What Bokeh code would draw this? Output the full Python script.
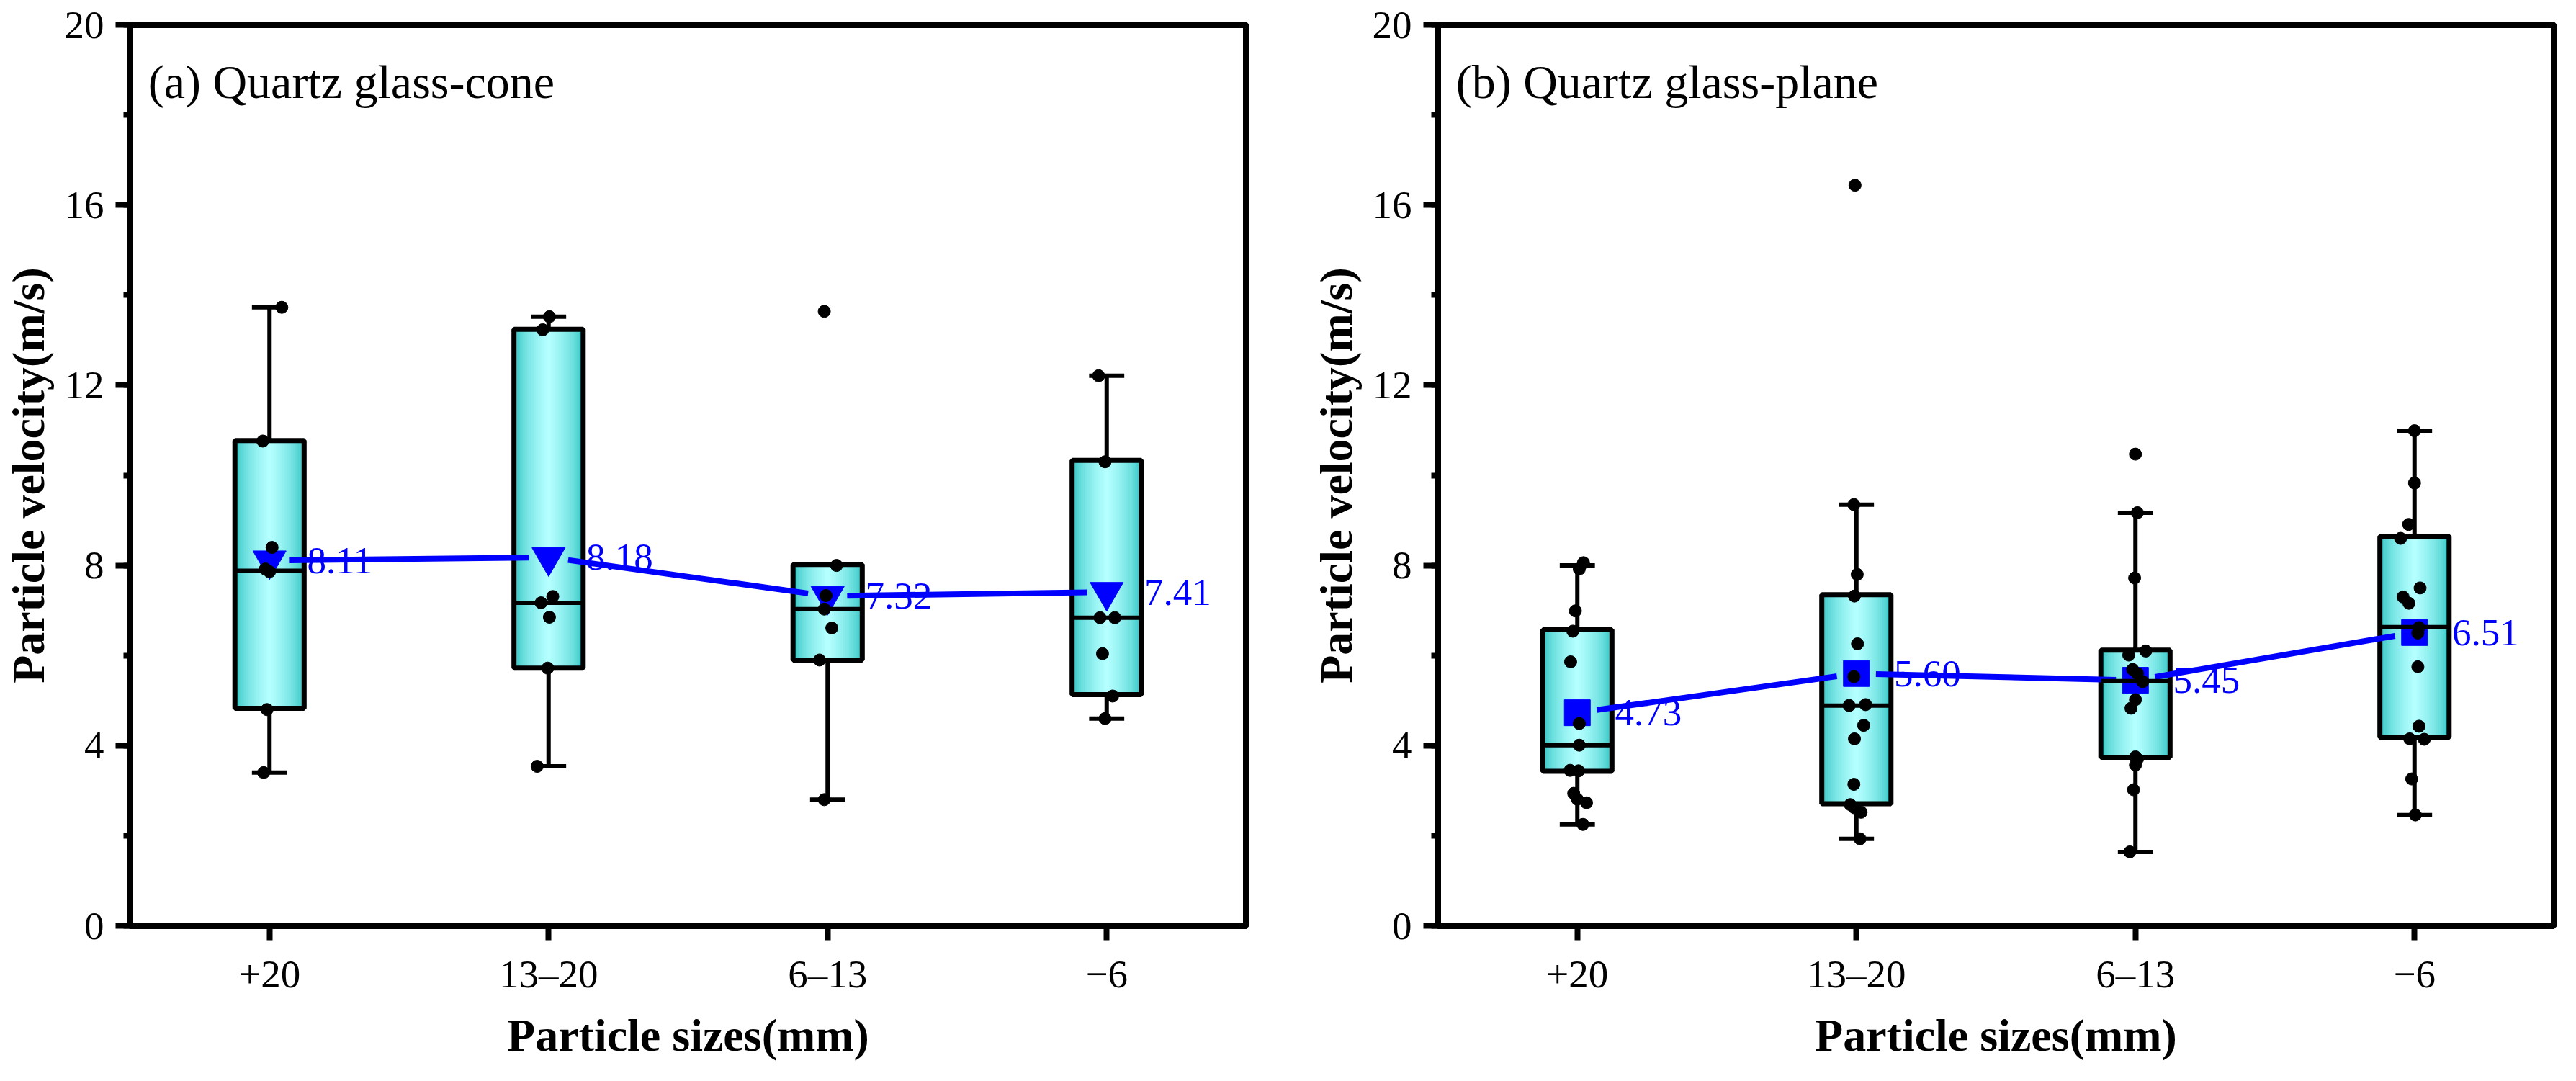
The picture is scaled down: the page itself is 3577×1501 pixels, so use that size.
from bokeh.plotting import figure
from bokeh.layouts import row
from bokeh.models import FixedTicker, SingleIntervalTicker, Label
from bokeh.core.properties import value
from bokeh.embed import file_html
from bokeh.resources import INLINE

# ---------------- data ----------------
categories = ["+20", "13\u201320", "6\u201313", "\u22126"]
cat_pos = [1, 2, 3, 4]

# (a) Quartz glass-cone
cone_points = [
    [13.73, 10.76, 8.40, 7.92, 7.86, 4.80, 3.40],
    [13.52, 13.23, 7.31, 7.17, 6.85, 5.72, 3.54],
    [13.64, 8.00, 7.33, 7.03, 6.61, 5.90, 2.80],
    [12.21, 10.30, 6.84, 6.84, 6.04, 5.10, 4.60],
]
cone_jitter = [
    [0.044, -0.024, 0.009, -0.015, 0.0, -0.009, -0.021],
    [0.003, -0.021, 0.015, -0.027, 0.003, -0.003, -0.041],
    [-0.012, 0.032, -0.006, -0.012, 0.015, -0.029, -0.012],
    [-0.029, -0.006, -0.024, 0.029, -0.015, 0.021, -0.006],
]
cone_q1 = [4.83, 5.72, 5.90, 5.13]
cone_median = [7.88, 7.17, 7.03, 6.84]
cone_q3 = [10.77, 13.24, 8.02, 10.33]
cone_wlo = [3.40, 3.54, 2.80, 4.60]
cone_whi = [13.73, 13.52, 8.02, 12.21]
cone_mean = [8.11, 8.18, 7.32, 7.41]

# (b) Quartz glass-plane
plane_points = [
    [8.06, 7.92, 6.99, 6.54, 5.86, 4.49, 4.01, 3.45, 3.44, 2.94, 2.81, 2.73, 2.25],
    [16.44, 9.35, 7.80, 7.32, 6.26, 5.53, 4.91, 4.89, 4.45, 4.15, 3.14, 2.69, 2.62, 2.52, 1.93],
    [10.47, 9.17, 7.72, 6.10, 6.01, 5.69, 5.60, 5.42, 5.02, 4.83, 3.75, 3.70, 3.57, 3.02, 1.64],
    [10.99, 9.83, 8.91, 8.60, 7.50, 7.30, 7.16, 6.62, 6.50, 5.75, 4.43, 4.15, 4.14, 3.26, 2.46],
]
plane_jitter = [
    [0.022, 0.007, -0.007, -0.016, -0.024, 0.007, 0.007, -0.026, 0.004, -0.013, 0.0, 0.033, 0.020],
    [-0.005, -0.009, 0.003, -0.007, 0.004, -0.009, 0.033, -0.026, 0.026, -0.007, -0.009, -0.022, -0.007, 0.017, 0.013],
    [0.0, 0.007, -0.003, 0.037, -0.024, -0.010, 0.007, 0.026, 0.0, -0.016, 0.0, 0.007, 0.0, -0.007, -0.020],
    [0.0, 0.0, -0.021, -0.050, 0.020, -0.041, -0.020, 0.016, 0.012, 0.012, 0.016, -0.017, 0.035, -0.010, 0.003],
]
plane_q1 = [3.43, 2.71, 3.74, 4.18]
plane_median = [4.01, 4.89, 5.43, 6.63]
plane_q3 = [6.57, 7.35, 6.12, 8.65]
plane_wlo = [2.25, 1.93, 1.64, 2.46]
plane_whi = [8.00, 9.35, 9.17, 10.99]
plane_mean = [4.73, 5.60, 5.45, 6.51]

SERIF = "Liberation Serif"
BLUE = "#0000ff"
EDGE_RGB = (36, 192, 190)
CENTER_RGB = (180, 255, 255)


def make_panel(title, pts, jit, q1, med, q3, wlo, whi, mean, marker, msize,
               width, border_left, border_right):
    p = figure(width=width, height=1485, x_range=(0.5, 4.5), y_range=(0, 20),
               output_backend="svg", toolbar_location=None,
               min_border_left=border_left, min_border_right=border_right,
               min_border_top=34, min_border_bottom=200)
    p.grid.visible = False
    p.outline_line_color = "black"
    p.outline_line_width = 9
    p.background_fill_color = "white"

    # axes
    p.xaxis.ticker = FixedTicker(ticks=cat_pos)
    p.xaxis.major_label_overrides = {c: lab for c, lab in zip(cat_pos, categories)}
    p.yaxis.ticker = SingleIntervalTicker(interval=4, num_minor_ticks=2)
    for ax in (p.xaxis[0], p.yaxis[0]):
        ax.axis_line_width = 9
        ax.major_tick_line_width = 8
        ax.minor_tick_line_width = 8
        ax.major_tick_out = 20
        ax.major_tick_in = 0
        ax.minor_tick_out = 9
        ax.minor_tick_in = 0
        ax.major_label_text_font = SERIF
        ax.major_label_text_font_size = "55px"
        ax.major_label_text_color = "black"
        ax.axis_label_text_font = SERIF
        ax.axis_label_text_font_style = "bold"
        ax.axis_label_text_font_size = "64px"
        ax.axis_label_text_color = "black"
    p.xaxis.minor_tick_line_color = None
    p.xaxis.axis_label = "Particle sizes(mm)"
    p.yaxis.axis_label = "Particle velocity(m/s)"
    p.xaxis.major_label_standoff = 16
    p.xaxis.axis_label_standoff = 16
    p.yaxis.major_label_standoff = 16
    p.yaxis.axis_label_standoff = 12

    # boxes with horizontal gradient (nested quads)
    half = 0.124
    n = 16
    for k in range(n):
        frac = 1.0 - k / n
        t = (k / (n - 1)) ** 0.55
        r = int(EDGE_RGB[0] + (CENTER_RGB[0] - EDGE_RGB[0]) * t)
        g = int(EDGE_RGB[1] + (CENTER_RGB[1] - EDGE_RGB[1]) * t)
        b = int(EDGE_RGB[2] + (CENTER_RGB[2] - EDGE_RGB[2]) * t)
        col = "#%02x%02x%02x" % (r, g, b)
        p.quad(left=[c - half * frac for c in cat_pos],
               right=[c + half * frac for c in cat_pos],
               bottom=q1, top=q3, fill_color=col, line_color=None)
    p.quad(left=[c - half for c in cat_pos], right=[c + half for c in cat_pos],
           bottom=q1, top=q3, fill_color=None, line_color="black", line_width=7)

    # whiskers
    p.segment(x0=cat_pos, y0=q3, x1=cat_pos, y1=whi, line_color="black", line_width=6)
    p.segment(x0=cat_pos, y0=q1, x1=cat_pos, y1=wlo, line_color="black", line_width=6)
    cap = 0.063
    p.segment(x0=[c - cap for c in cat_pos], y0=whi, x1=[c + cap for c in cat_pos], y1=whi,
              line_color="black", line_width=6)
    p.segment(x0=[c - cap for c in cat_pos], y0=wlo, x1=[c + cap for c in cat_pos], y1=wlo,
              line_color="black", line_width=6)

    # mean line (with small gaps at the symbols)
    gap = 0.07
    sx0, sy0, sx1, sy1 = [], [], [], []
    for i in range(len(mean) - 1):
        dy = mean[i + 1] - mean[i]
        sx0.append(cat_pos[i] + gap)
        sy0.append(mean[i] + dy * gap)
        sx1.append(cat_pos[i + 1] - gap)
        sy1.append(mean[i + 1] - dy * gap)
    p.segment(x0=sx0, y0=sy0, x1=sx1, y1=sy1, line_color=BLUE, line_width=8)
    p.scatter(x=cat_pos, y=mean, marker=marker, size=msize, fill_color=BLUE, line_color=BLUE)

    # median
    p.segment(x0=[c - half for c in cat_pos], y0=med, x1=[c + half for c in cat_pos], y1=med,
              line_color="black", line_width=6)

    # raw points
    xs, ys = [], []
    for c, vals, js in zip(cat_pos, pts, jit):
        for v, j in zip(vals, js):
            xs.append(c + j)
            ys.append(v)
    p.scatter(x=xs, y=ys, size=17, fill_color="black", line_color="black")

    # mean value labels
    p.text(x=[c + 0.135 for c in cat_pos], y=mean, text=["%.2f" % m for m in mean],
           text_font=value(SERIF), text_font_size=value("53px"), text_color=BLUE,
           text_baseline="middle", text_align="left")

    p.add_layout(Label(x=0.565, y=18.74, text=title, text_font=SERIF,
                       text_font_size="66px", text_color="black",
                       text_baseline="alphabetic", text_align="left"))
    return p


p1 = make_panel("(a) Quartz glass-cone", cone_points, cone_jitter, cone_q1, cone_median,
                cone_q3, cone_wlo, cone_whi, cone_mean, "inverted_triangle", 46,
                1816, 179, 86)
p2 = make_panel("(b) Quartz glass-plane", plane_points, plane_jitter, plane_q1, plane_median,
                plane_q3, plane_wlo, plane_whi, plane_mean, "square", 36,
                1745, 179, 15)

layout = row(p1, p2)
open("out.html", "w").write(file_html(layout, INLINE))
